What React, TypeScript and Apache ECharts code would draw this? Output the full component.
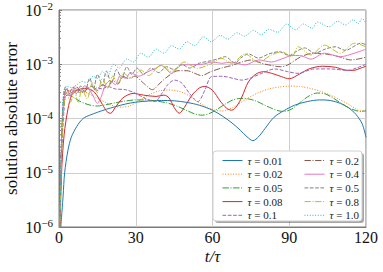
import React, { useEffect, useRef } from 'react';
import * as echarts from 'echarts';

const tauLabels = ['0.01', '0.02', '0.05', '0.08', '0.1', '0.2', '0.4', '0.5', '0.8', '1.0'];
const xTicks = [0, 30, 60, 90, 120];
const minorTickValues = [2e-6, 3e-6, 4e-6, 5e-6, 6e-6, 7e-6, 8e-6, 9e-6, 2e-5, 3e-5, 4e-5, 5e-5, 6e-5, 7e-5, 8e-5, 9e-5, 2e-4, 3e-4, 4e-4, 5e-4, 6e-4, 7e-4, 8e-4, 9e-4, 2e-3, 3e-3, 4e-3, 5e-3, 6e-3, 7e-3, 8e-3, 9e-3];

const err001 = [[0.7,1e-6],[1.6,3.7e-6],[2.2,1e-5],[3.5,2.6e-5],[4.8,4.5e-5],[7,7.2e-5],[9.4,1.0e-4],[12,1.15e-4],[15,1.3e-4],[18.5,1.48e-4],[22,1.65e-4],[26,1.85e-4],[30,2e-4],[35,2.1e-4],[40,2.15e-4],[45,2.12e-4],[50,1.98e-4],[55,1.75e-4],[60,1.42e-4],[64,1.1e-4],[68,8e-5],[71,6e-5],[73.5,4.6e-5],[75.8,3.9e-5],[78,4.6e-5],[80.5,6.5e-5],[84,1.05e-4],[88,1.4e-4],[92,1.75e-4],[97,2.05e-4],[102,2.2e-4],[106,2.15e-4],[110,1.9e-4],[113,1.6e-4],[116,1.2e-4],[118.5,8e-5],[120,4.5e-5]];
const err002 = [[0.2,5e-7],[0.8,2e-5],[1.5,1.3e-4],[2.5,2.9e-4],[4,3.3e-4],[6,3.3e-4],[8,3.2e-4],[10,3.1e-4],[12,2.8e-4],[14,2.5e-4],[16,2.2e-4],[18,2e-4],[20,1.8e-4],[22.5,1.65e-4],[25,1.62e-4],[27.5,1.7e-4],[30,1.95e-4],[33,2.4e-4],[36,2.85e-4],[39,3.2e-4],[42,3.35e-4],[45,3.3e-4],[48,3.05e-4],[51,2.6e-4],[54,2.05e-4],[57,1.7e-4],[60,1.48e-4],[62.5,1.38e-4],[65,1.4e-4],[68,1.6e-4],[71,1.95e-4],[74,2.4e-4],[78,3e-4],[82,3.5e-4],[86,3.8e-4],[90,3.95e-4],[94,3.9e-4],[98,3.6e-4],[102,3.2e-4],[106,2.7e-4],[110,2.2e-4],[113,1.85e-4],[116,1.5e-4],[118,1.38e-4],[120,1.45e-4]];
const err005 = [[0.2,5e-7],[0.8,2e-5],[1.6,1.2e-4],[2.5,2.6e-4],[4,2.7e-4],[6,2.4e-4],[8,2.1e-4],[10,1.9e-4],[12.5,1.75e-4],[15,1.7e-4],[18,1.78e-4],[22,1.95e-4],[26,2.1e-4],[30,2.2e-4],[34,2.2e-4],[38,2.1e-4],[42,1.95e-4],[46,1.7e-4],[50,1.4e-4],[53,1.22e-4],[56,1.15e-4],[59,1.25e-4],[62,1.5e-4],[65,1.85e-4],[68,2.2e-4],[71,2.35e-4],[74,2.3e-4],[77,2.1e-4],[80,1.8e-4],[83,1.55e-4],[86,1.38e-4],[88,1.35e-4],[91,1.5e-4],[95,2.1e-4],[98,2.65e-4],[101,2.95e-4],[104,2.85e-4],[107,2.4e-4],[110,1.95e-4],[113,1.6e-4],[116,1.4e-4],[118,1.35e-4],[120,1.38e-4]];
const err008 = [[0.3,5e-7],[1,1e-5],[2,5e-5],[3.5,1.5e-4],[5,2.7e-4],[7,3.3e-4],[10,3.6e-4],[13,3.3e-4],[15,2.6e-4],[17,1.8e-4],[19,1.3e-4],[20.2,1.25e-4],[22,1.6e-4],[25,2.4e-4],[29,2.9e-4],[33,2.7e-4],[38,2.55e-4],[41,2.7e-4],[43,2.4e-4],[45,1.6e-4],[47,1.25e-4],[49,1.6e-4],[52,2.7e-4],[55,3.7e-4],[57,3.9e-4],[60,3.3e-4],[63,2.1e-4],[65.5,1.55e-4],[67.5,1.42e-4],[69.5,1.7e-4],[71.5,2.5e-4],[74,4.7e-4],[77,6.6e-4],[80,7.3e-4],[84,6.6e-4],[87,5.9e-4],[90,5.4e-4],[94,6.6e-4],[98,8.3e-4],[103,9.2e-4],[108,8.8e-4],[112,7.8e-4],[115,7.7e-4],[118,8.5e-4],[120,9.2e-4]];
const err01 = [[0.2,5e-7],[1,2e-5],[2,1.5e-4],[3,3e-4],[5,2.8e-4],[7,3.5e-4],[9,3.1e-4],[11,3.8e-4],[13,3.2e-4],[15,3.7e-4],[17,3.5e-4],[19,3.9e-4],[22,3.5e-4],[26,3.4e-4],[30,2.9e-4],[34,2.3e-4],[37.5,2.05e-4],[40,2.8e-4],[42.5,4.2e-4],[45.2,5.1e-4],[48,4.5e-4],[51,2.9e-4],[54.3,2.05e-4],[57,3.3e-4],[59.6,5.9e-4],[64,6e-4],[68,5.5e-4],[71.4,5.1e-4],[75,5.6e-4],[79.2,6.8e-4],[84.4,8.2e-4],[89.4,7.3e-4],[93.3,6.8e-4],[99.8,8.2e-4],[106,8.2e-4],[112.9,7.7e-4],[116.5,8.6e-4],[120,1e-3]];
const err02 = [[0.2,5e-7],[1,3e-5],[1.8,2e-4],[3,3.6e-4],[5,3e-4],[7,3.8e-4],[9,3e-4],[11,3.5e-4],[13,3.9e-4],[15,3.3e-4],[17,4.2e-4],[19,3.8e-4],[21,5e-4],[23,4.3e-4],[25,6e-4],[27,5.5e-4],[29.6,6e-4],[33,4.5e-4],[36.5,3.4e-4],[39.5,4.5e-4],[42.6,6e-4],[46.5,7.6e-4],[50,7.6e-4],[55.7,6.2e-4],[59.6,7.4e-4],[63.5,8.5e-4],[67.5,9.5e-4],[71.4,1.1e-3],[75.3,1.2e-3],[79,1.05e-3],[83,9.5e-4],[86.5,9e-4],[89.4,9.7e-4],[94.6,1.38e-3],[99.8,1.6e-3],[106,1.5e-3],[110,1.35e-3],[114,1.2e-3],[117,1.25e-3],[120,1.35e-3]];
const err04 = [[0.2,5e-7],[1,4e-5],[1.8,2e-4],[3,3.5e-4],[4.5,2.5e-4],[6,3.8e-4],[8,3e-4],[10,4e-4],[12,3.3e-4],[13.5,2.5e-4],[15,1.9e-4],[16.5,2.5e-4],[18,4e-4],[20,5e-4],[22,4.2e-4],[24,6.2e-4],[26,5.5e-4],[28,7e-4],[31,6e-4],[34.8,7.3e-4],[37.5,8.3e-4],[40,9.5e-4],[42,8e-4],[44,6.8e-4],[46,8.2e-4],[48,9.7e-4],[52,9.8e-4],[56,1.0e-3],[60,1.1e-3],[63.6,1.04e-3],[67.5,1.1e-3],[72.7,9.7e-4],[78,1.2e-3],[83,1.1e-3],[88,1.3e-3],[91,1.45e-3],[94,1.45e-3],[98.5,1.24e-3],[103.7,1.6e-3],[110,1.38e-3],[115.5,1.6e-3],[120,1.9e-3]];
const err05 = [[0.2,5e-7],[1,3e-5],[1.6,2e-4],[2.5,3.8e-4],[4,3e-4],[5.5,3.8e-4],[7,2.8e-4],[8.5,4e-4],[10,3e-4],[12,5.5e-4],[13.5,3.5e-4],[15,6.5e-4],[17,4e-4],[18.5,7.5e-4],[20.5,4.5e-4],[22.5,8e-4],[24.5,5.5e-4],[26.5,9e-4],[28.5,6.5e-4],[30.5,8.5e-4],[33,6.5e-4],[36,8.5e-4],[39,7e-4],[42,9e-4],[45,8e-4],[48,1.0e-3],[51,8.5e-4],[55,1.05e-3],[59,1.15e-3],[62,1.25e-3],[65,1.38e-3],[68.8,1.05e-3],[71,1.3e-3],[74,1.55e-3],[78,1.3e-3],[82,1.55e-3],[86,1.7e-3],[90,1.45e-3],[93,1.75e-3],[96,2.0e-3],[100,1.6e-3],[104,1.9e-3],[108,2.1e-3],[112,1.8e-3],[115,2.1e-3],[118,2.45e-3],[120,2.3e-3]];
const err08 = [[0.2,5e-7],[1,2e-5],[1.8,1.5e-4],[3,3e-4],[4.5,2e-4],[6,3.2e-4],[7.5,2e-4],[9,3.5e-4],[11,2.3e-4],[13,4.5e-4],[15,3e-4],[17,5.5e-4],[19,3.6e-4],[21,6e-4],[23,4.5e-4],[25.5,6.8e-4],[28,5.5e-4],[32,7.8e-4],[35,6.2e-4],[40,9.7e-4],[44,7.3e-4],[49,1.1e-3],[54,8.4e-4],[59,1.0e-3],[63.6,1.28e-3],[67.5,1.04e-3],[72.7,1.55e-3],[78,1.1e-3],[83,1.48e-3],[87,1.7e-3],[91,1.38e-3],[93.5,2.1e-3],[98.5,1.48e-3],[103.7,2.25e-3],[110,1.6e-3],[115.5,2.44e-3],[120,2.1e-3]];
const err10 = [[0.2,5e-7],[1,5e-5],[1.8,3e-4],[3,3.9e-4],[5,3.7e-4],[7,4.2e-4],[9,4.8e-4],[11,4.6e-4],[13.4,6e-4],[15,5.5e-4],[17,7.3e-4],[19,6e-4],[21.3,1.0e-3],[23.5,8.5e-4],[26.5,1.25e-3],[29,1.1e-3],[32,1.6e-3],[35,1.35e-3],[38,1.9e-3],[41,1.6e-3],[44,2.2e-3],[47,1.9e-3],[50,2.6e-3],[53,2.2e-3],[56.5,3.2e-3],[59.5,2.6e-3],[63,3.4e-3],[66,2.9e-3],[69.5,3.8e-3],[72.5,3.3e-3],[76,4.2e-3],[79,3.5e-3],[82,4.4e-3],[85.5,3.9e-3],[89,5.5e-3],[92.5,4.3e-3],[95.5,5.5e-3],[99,4.6e-3],[101,6.0e-3],[105.5,4.9e-3],[109,6.2e-3],[112,5.3e-3],[115,6.6e-3],[117,5.6e-3],[118.5,7e-3],[120,5.7e-3]];

const seriesData = [err001, err002, err005, err008, err01, err02, err04, err05, err08, err10];
const colors = ['#1f77b4', '#ff7f0e', '#2ca02c', '#d62728', '#9467bd', '#8c564b', '#e377c2', '#7f7f7f', '#bcbd22', '#17becf'];
const DOT = [1, 1.65];
const DASH = [3.7, 1.6];
const DASHDOT = [6.4, 1.6, 1, 1.6];
const lineTypes: any[] = ['solid', DOT, DASHDOT, 'solid', DASH, DASHDOT, 'solid', DASH, DASHDOT, DOT];

const FONT = '"Liberation Serif", "DejaVu Serif", serif';

export default function App() {
  const ref = useRef<HTMLDivElement>(null);
  useEffect(() => {
    const chart = echarts.init(ref.current!, null, { renderer: 'svg' });
    const names = tauLabels.map((t) => 'τ = ' + t);
    const lineSeries = seriesData.map((d, i) => ({
      name: names[i],
      type: 'line',
      data: d,
      showSymbol: false,
      symbol: 'none',
      smooth: 0.3,
      clip: true,
      color: colors[i],
      lineStyle: { width: 1, type: lineTypes[i], color: colors[i] },
      z: 2 + i * 0.01,
    }));
    const legendBase = {
      orient: 'vertical',
      itemWidth: 20,
      itemHeight: 8,
      itemGap: 2.7,
      z: 20,
      itemStyle: { opacity: 0, borderWidth: 0 },
      lineStyle: { width: 1 },
      textStyle: {
        fontFamily: FONT,
        fontSize: 11,
        color: '#222',
        rich: {
          i: { fontFamily: FONT, fontStyle: 'italic', fontSize: 11, lineHeight: 11, color: '#222' },
          n: { fontFamily: FONT, fontSize: 11, lineHeight: 11, color: '#222' },
        },
      },
      formatter: (name: string) => `{i|τ}{n|${name.slice(1)}}`,
    };
    chart.setOption({
      animation: false,
      backgroundColor: '#ffffff',
      grid: { left: 59, right: 17, top: 10, bottom: 45, show: true, borderColor: '#7a7a7a', borderWidth: 1, containLabel: false, outerBoundsMode: 'none' },
      xAxis: {
        type: 'value',
        min: 0,
        max: 120,
        interval: 30,
        name: 't/τ',
        nameLocation: 'middle',
        nameGap: 21,
        nameMoveOverlap: false,
        nameTextStyle: { fontFamily: FONT, fontSize: 17, fontStyle: 'italic', color: '#111' },
        axisLine: { show: true, lineStyle: { color: '#7a7a7a' } },
        axisTick: { show: false },
        axisLabel: { fontFamily: FONT, fontSize: 16, color: '#111', margin: 2, formatter: (v: number) => (xTicks.includes(v) ? String(v) : '') },
        splitLine: { show: true, lineStyle: { color: '#cfcfcf', width: 1 } },
      },
      yAxis: {
        type: 'log',
        logBase: 10,
        min: 1e-6,
        max: 1e-2,
        name: 'solution absolute error',
        nameLocation: 'middle',
        nameGap: 39,
        nameMoveOverlap: false,
        nameTextStyle: { fontFamily: FONT, fontSize: 17, color: '#111' },
        axisLine: { show: true, lineStyle: { color: '#7a7a7a' } },
        axisTick: { show: true, inside: true, length: 3, lineStyle: { color: '#7a7a7a' } },
        axisLabel: {
          margin: 6,
          formatter: (v: number) => {
            const e = Math.round(Math.log10(v));
            return `{b|10}{s|${e < 0 ? '−' : ''}${Math.abs(e)}}`;
          },
          rich: {
            b: { fontFamily: FONT, fontSize: 16, color: '#111', lineHeight: 16 },
            s: { fontFamily: FONT, fontSize: 11, color: '#111', verticalAlign: 'bottom', padding: [0, 0, 8, 0] },
          },
        },
        splitLine: { show: true, lineStyle: { color: '#cfcfcf', width: 1 } },
      },
      legend: [
        { ...legendBase, left: 217, top: 150, data: names.slice(0, 5) },
        { ...legendBase, left: 299, top: 150, data: names.slice(5) },
      ],
      graphic: [
        { type: 'rect', z: 15, shape: { x: 215, y: 153, width: 149, height: 70, r: 3 }, style: { fill: 'rgba(0,0,0,0.35)' }, silent: true },
        { type: 'rect', z: 16, shape: { x: 213, y: 151, width: 149, height: 70, r: 3 }, style: { fill: '#ffffff', stroke: '#d0d0d0', lineWidth: 1 }, silent: true },
      ],
      series: [
        ...lineSeries,
        {
          type: 'custom',
          silent: true,
          data: minorTickValues.map((v) => [0, v]),
          renderItem: (params: any, api: any) => {
            const p = api.coord([api.value(0), api.value(1)]);
            return { type: 'line', shape: { x1: p[0], y1: p[1], x2: p[0] + 2, y2: p[1] }, style: { stroke: '#7a7a7a', lineWidth: 1 } };
          },
          z: 5,
        },
      ],
    });
    return () => chart.dispose();
  }, []);
  return <div ref={ref} style={{ width: 383, height: 272, position: 'absolute', left: 0, top: 0 }} />;
}
